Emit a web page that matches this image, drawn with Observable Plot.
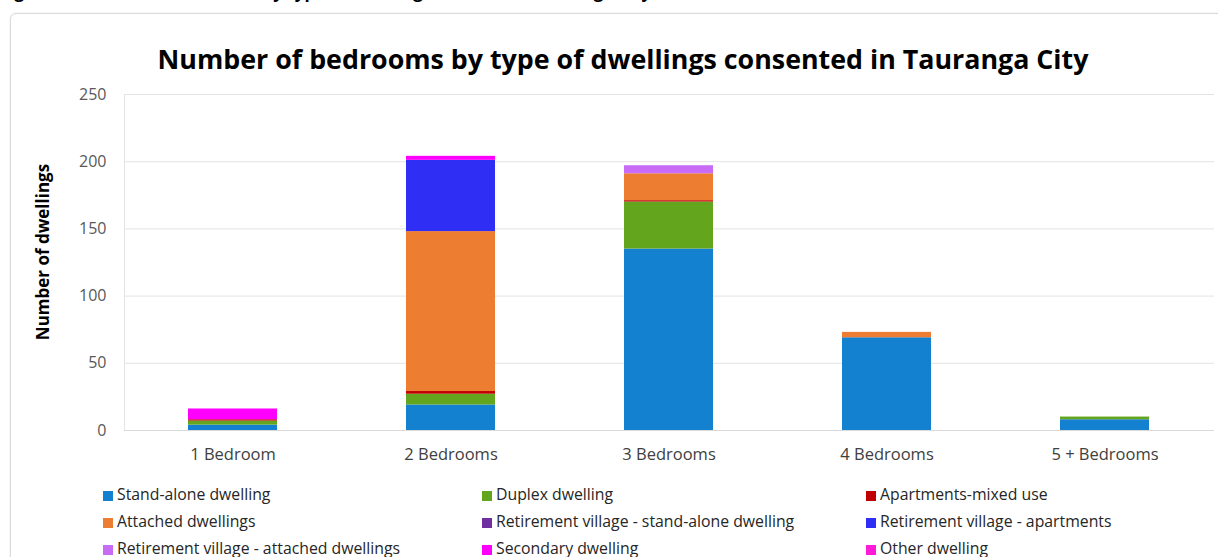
<!DOCTYPE html>
<html>
<head>
<meta charset="utf-8">
<script src="https://cdn.jsdelivr.net/npm/d3@7"></script>
<script src="https://cdn.jsdelivr.net/npm/@observablehq/plot@0.6"></script>
<style>
  html, body { margin: 0; padding: 0; background: #fff; width: 1218px; height: 557px; overflow: hidden; position: relative; font-family: "Open Sans", sans-serif; }
  #caption { position: absolute; left: 0; top: -20px; font: 700 17px/23px "Open Sans", sans-serif; color: #000; white-space: nowrap; }
  #frame { position: absolute; left: 10px; top: 13px; width: 1230px; height: 580px; border: 1px solid #d9d9d9; border-radius: 6px; box-shadow: 0 0 3px rgba(0,0,0,0.08); }
  #title { position: absolute; left: 0; width: 1246px; top: 40px; text-align: center; font: 700 26.8px "Open Sans", sans-serif; color: #000; white-space: nowrap; }
  #ytitle { position: absolute; left: 42px; top: 252px; transform: translate(-50%, -50%) rotate(-90deg); font: 700 17px "Open Sans", sans-serif; color: #000; white-space: nowrap; }
  #chart { position: absolute; left: 0; top: 80px; }
  #legend { position: absolute; left: 0; top: 484px; font: 400 15.8px "Open Sans", sans-serif; color: #262626; }
  .li { position: absolute; white-space: nowrap; height: 20px; line-height: 20px; }
  .sw { display: inline-block; width: 10px; height: 10px; margin-right: 4px; vertical-align: -1px; }
</style>
</head>
<body>
<div id="caption">Figure 4: Number of bedrooms by type of dwellings consented, Tauranga City, 2023</div>
<div id="frame"></div>
<div id="title">Number of bedrooms by type of dwellings consented in Tauranga City</div>
<div id="ytitle">Number of dwellings</div>
<div id="chart"></div>
<div id="legend"></div>
<script>
// Categories (x axis)
const bedrooms = ["1 Bedroom", "2 Bedrooms", "3 Bedrooms", "4 Bedrooms", "5 + Bedrooms"];

// Series names (stack order, bottom to top)
const seriesNames = [
  "Stand-alone dwelling",
  "Duplex dwelling",
  "Apartments-mixed use",
  "Attached dwellings",
  "Retirement village - stand-alone dwelling",
  "Retirement village - apartments",
  "Retirement village - attached dwellings",
  "Secondary dwelling",
  "Other dwelling"
];
const seriesColors = ["#1380d0", "#63a51c", "#c00000", "#ed7d31", "#7030a0", "#2e2ef5", "#c86bf5", "#ff00ff", "#ff19d9"];

// Values per category, one array per series
const standAlone      = [4, 19, 135, 69, 8];
const duplex          = [3, 8, 35, 0, 2];
const apartmentsMixed = [1, 2, 1, 0, 0];
const attached        = [0, 119, 20, 4, 0];
const rvStandAlone    = [0, 0, 0, 0, 0];
const rvApartments    = [0, 53, 0, 0, 0];
const rvAttached      = [0, 0, 6, 0, 0];
const secondary       = [8, 3, 0, 0, 0];
const other           = [0, 0, 0, 0, 0];

const yTicks = [0, 50, 100, 150, 200, 250];

const seriesValues = [standAlone, duplex, apartmentsMixed, attached, rvStandAlone, rvApartments, rvAttached, secondary, other];
const rows = [];
seriesNames.forEach((name, i) => {
  bedrooms.forEach((b, j) => rows.push({bedrooms: b, type: name, value: seriesValues[i][j]}));
});

// left axis line drawn from the y scale and plot dimensions
function leftAxisLine(index, scales, values, dimensions) {
  const ns = "http://www.w3.org/2000/svg";
  const line = document.createElementNS(ns, "line");
  const x = dimensions.marginLeft + 0.5;
  line.setAttribute("x1", x);
  line.setAttribute("x2", x);
  line.setAttribute("y1", scales.y(0));
  line.setAttribute("y2", scales.y(yTicks[yTicks.length - 1]));
  line.setAttribute("stroke", "#e3e3e3");
  return line;
}

const chart = Plot.plot({
  width: 1218,
  height: 400,
  marginLeft: 124,
  marginRight: 4,
  marginTop: 14,
  marginBottom: 50,
  style: {fontFamily: "Open Sans, sans-serif", background: "transparent"},
  x: {domain: bedrooms, paddingInner: 0.59, paddingOuter: 0.295, label: null},
  y: {domain: [0, 250], label: null},
  color: {domain: seriesNames, range: seriesColors},
  marks: [
    Plot.gridY(yTicks, {stroke: "#e3e3e3", strokeOpacity: 1}),
    leftAxisLine,
    Plot.barY(rows, {x: "bedrooms", y: "value", fill: "type", order: seriesNames}),
    Plot.ruleY([0], {stroke: "#d9d9d9"}),
    Plot.axisY({ticks: yTicks, tickSize: 0, tickPadding: 18, fontSize: 16, fill: "#595959", label: null}),
    Plot.axisX({tickSize: 0, tickPadding: 18, fontSize: 16.5, fill: "#404040", label: null})
  ]
});
document.getElementById("chart").appendChild(chart);

// Legend
const legendPos = [
  [103, 0], [482, 0], [866, 0],
  [103, 27], [482, 27], [866, 27],
  [103, 54], [482, 54], [866, 54]
];
const legend = document.getElementById("legend");
seriesNames.forEach((name, k) => {
  const d = document.createElement("div");
  d.className = "li";
  d.style.left = legendPos[k][0] + "px";
  d.style.top = legendPos[k][1] + "px";
  const sw = document.createElement("span");
  sw.className = "sw";
  sw.style.background = seriesColors[k];
  d.appendChild(sw);
  d.appendChild(document.createTextNode(name));
  legend.appendChild(d);
});
</script>
</body>
</html>
